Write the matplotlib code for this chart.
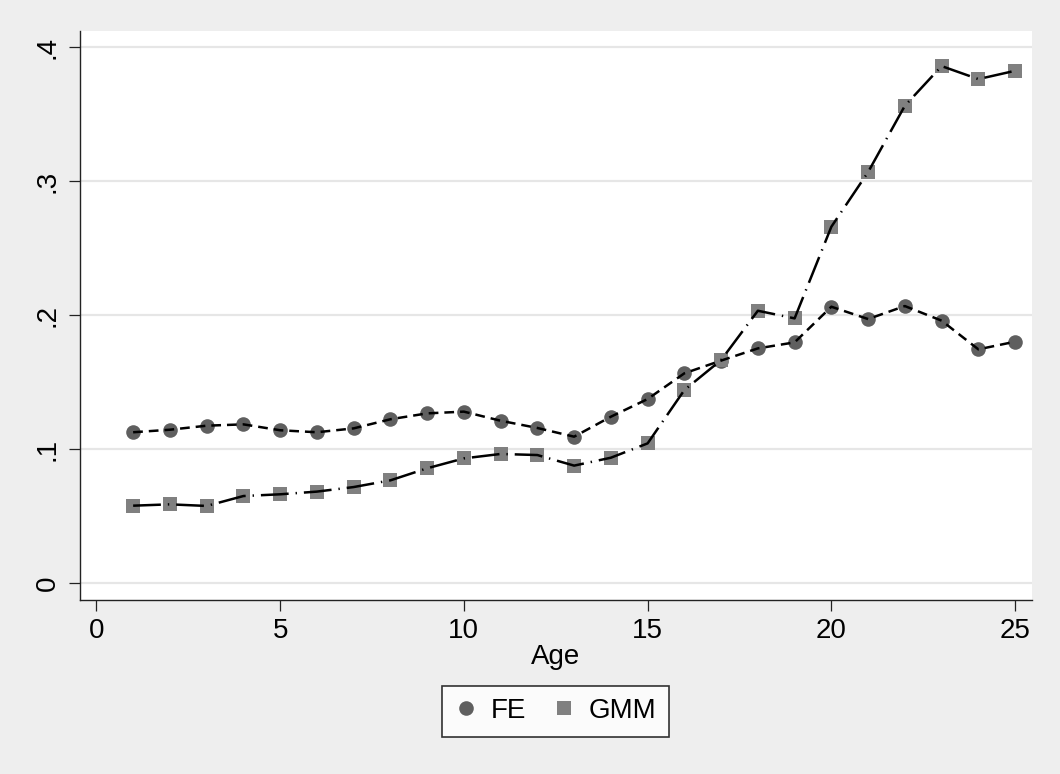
import matplotlib

matplotlib.use("Agg")
import matplotlib.pyplot as plt
from matplotlib.lines import Line2D

plt.rcParams["font.family"] = ["Liberation Sans", "DejaVu Sans"]
plt.rcParams["lines.scale_dashes"] = False

# coefficient by age, fixed effects vs system GMM
age = list(range(1, 26))
fe = [0.1125, 0.1144, 0.1174, 0.1184, 0.1140, 0.1125, 0.1154, 0.1222, 0.1266, 0.1279,
      0.1211, 0.1157, 0.1092, 0.1241, 0.1373, 0.1565, 0.1660, 0.1751, 0.1796, 0.2062,
      0.1970, 0.2067, 0.1958, 0.1744, 0.1801]
gmm = [0.0577, 0.0587, 0.0575, 0.0649, 0.0662, 0.0682, 0.0716, 0.0766, 0.0856, 0.0930,
       0.0963, 0.0955, 0.0876, 0.0935, 0.1042, 0.1440, 0.1664, 0.2032, 0.1975, 0.2659,
       0.3067, 0.3562, 0.3858, 0.3761, 0.3823]

xticks = [0, 5, 10, 15, 20, 25]
yticks = [0, 0.1, 0.2, 0.3, 0.4]
ytick_labels = ["0", ".1", ".2", ".3", ".4"]

BG = "#eeeeee"
FE_GRAY = "#5f5f5f"
GMM_GRAY = "#808080"
FE_MS = 10.5
GMM_MS = 10.5

fig = plt.figure(figsize=(10.6, 7.74), dpi=100, facecolor=BG)
ax = fig.add_axes([80 / 1060, 1 - 600 / 774, 952 / 1060, 569 / 774])
ax.set_facecolor("white")

# markers underneath, connecting lines on top
ax.plot(age, fe, linestyle="none", marker="o", markersize=FE_MS,
        markerfacecolor=FE_GRAY, markeredgewidth=0, zorder=2)
ax.plot(age, gmm, linestyle="none", marker="s", markersize=GMM_MS,
        markerfacecolor=GMM_GRAY, markeredgewidth=0, zorder=2)
ax.plot(age, fe, color="black", linewidth=1.8, dashes=(7, 4.3), zorder=3)
ax.plot(age, gmm, color="black", linewidth=1.8, dashes=(20, 5, 1, 5), zorder=3)

ax.set_xlim(-0.446, 25.46)
ax.set_ylim(-0.0127, 0.412)
ax.set_xticks(xticks)
ax.set_yticks(yticks)
ax.set_yticklabels(ytick_labels, rotation=90, va="center")
ax.grid(axis="y", color="#e6e6e6", linewidth=1.6)
ax.set_axisbelow(True)

for side in ("top", "right"):
    ax.spines[side].set_visible(False)
for side in ("left", "bottom"):
    ax.spines[side].set_linewidth(1.0)
    ax.spines[side].set_color("#222222")

ax.tick_params(axis="both", labelsize=20, length=8, width=0.9, color="#222222")
ax.tick_params(axis="x", pad=5)
ax.tick_params(axis="y", pad=6)
ax.set_xlabel("Age", fontsize=20, labelpad=0)

handles = [
    Line2D([], [], linestyle="none", marker="o", markersize=FE_MS,
           markerfacecolor=FE_GRAY, markeredgewidth=0),
    Line2D([], [], linestyle="none", marker="s", markersize=GMM_MS,
           markerfacecolor=GMM_GRAY, markeredgewidth=0),
]
leg = fig.legend(handles, ["FE", "GMM"], ncol=2, loc="center",
                 bbox_to_anchor=(555.5 / 1060, 1 - 711 / 774), fontsize=20,
                 frameon=True, fancybox=False, edgecolor="black",
                 handlelength=0.8, handletextpad=0.5, columnspacing=0.95,
                 borderpad=0.45, borderaxespad=0)
leg.get_frame().set_linewidth(1.2)

fig.savefig("out.png", dpi=100, facecolor=BG)
